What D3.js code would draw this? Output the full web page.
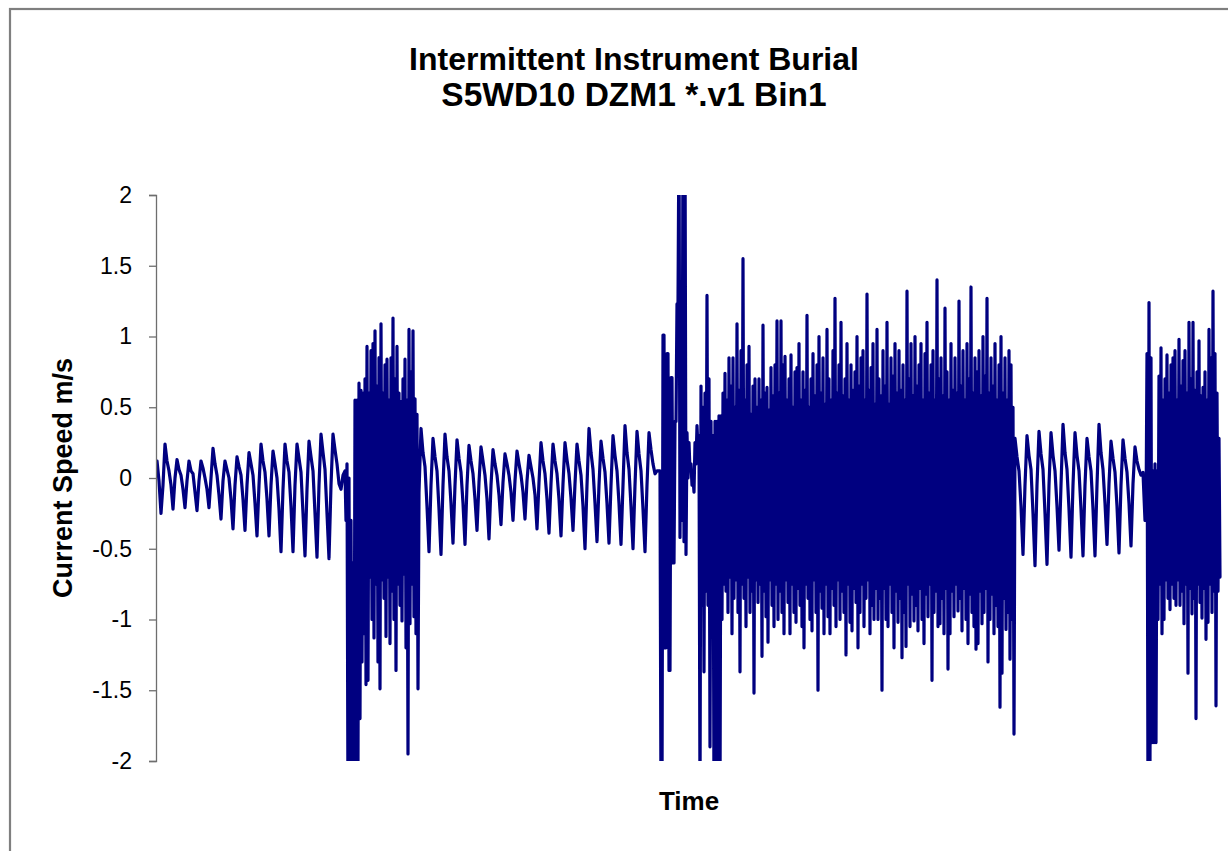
<!DOCTYPE html>
<html>
<head>
<meta charset="utf-8">
<script src="https://cdn.jsdelivr.net/npm/d3@7"></script>
<style>
  html, body { margin: 0; padding: 0; background: #ffffff; }
  svg { display: block; }
  text { font-family: "Liberation Sans", Arial, sans-serif; fill: #000; }
</style>
</head>
<body>
<svg id="chart" width="1228" height="851"></svg>
<script>
// ---------------- DATA ----------------
const titleLines = ["Intermittent Instrument Burial", "S5WD10 DZM1 *.v1 Bin1"];
const xTitle = "Time";
const yTitle = "Current Speed m/s";
const yTicks = [2, 1.5, 1, 0.5, 0, -0.5, -1, -1.5, -2];
const yTickLabels = ["2", "1.5", "1", "0.5", "0", "-0.5", "-1", "-1.5", "-2"];

// calm (tidal-like) section 1 — one sample per time step of 2
const calm1 = [
  0.12, -0.02, -0.25, -0.05,
  0.24, 0.12, 0.05, -0.05, -0.22, 0.00,
  0.13, 0.06, 0.02, -0.08, -0.21, -0.02,
  0.12, 0.05, 0.03, -0.10, -0.23, -0.02,
  0.12, 0.07, 0.00, -0.08, -0.21, 0.00,
  0.21, 0.10, 0.02, -0.12, -0.29, -0.02,
  0.12, 0.06, 0.00, -0.15, -0.36, -0.05,
  0.15, 0.08, 0.02, -0.15, -0.37, -0.05,
  0.18, 0.10, 0.02, -0.18, -0.41, -0.05,
  0.24, 0.12, 0.04, -0.15, -0.41, -0.05,
  0.19, 0.10, 0.00, -0.22, -0.52, -0.08,
  0.24, 0.12, 0.04, -0.20, -0.52, -0.05,
  0.24, 0.14, 0.04, -0.25, -0.55, -0.08,
  0.26, 0.15, 0.05, -0.25, -0.56, -0.05,
  0.31, 0.18, 0.06, -0.25, -0.57, -0.05,
  0.31, 0.20, 0.10, -0.04, -0.08, 0.02
];
// burial burst 1 — upper and lower excursion in each time slot
const burst1Hi = [
  0.05, 0.10, 0.00, -0.30, -0.60, 0.55, 0.55, 0.67, 0.62, 0.60,
  0.70, 0.93, 0.60, 0.90, 0.95, 1.04, 0.65, 0.85, 1.09, 0.60,
  0.80, 0.84, 0.55, 0.85, 1.13, 0.70, 0.93, 0.60, 0.54, 0.70,
  0.84, 0.55, 1.05, 0.75, 1.04, 0.56, 0.45
];
const burst1Lo = [
  -0.30, -2.30, -2.30, -2.30, -2.30, -2.20, -2.00, -1.70, -1.30, -1.10,
  -1.46, -1.43, -0.70, -1.00, -1.13, -0.75, -1.30, -1.49, -0.72, -0.85,
  -1.12, -0.70, -1.17, -0.80, -1.00, -1.36, -0.75, -0.90, -1.01, -0.68,
  -1.20, -1.95, -1.03, -0.75, -0.98, -1.10, -1.49
];
// calm section 2
const calm2 = [
  -0.10,
  0.35, 0.18, 0.08, -0.20, -0.52, -0.05,
  0.28, 0.15, 0.05, -0.22, -0.54, -0.05,
  0.31, 0.15, 0.05, -0.18, -0.46, -0.05,
  0.27, 0.14, 0.04, -0.18, -0.47, -0.05,
  0.23, 0.12, 0.03, -0.15, -0.37, -0.03,
  0.22, 0.12, 0.02, -0.15, -0.43, -0.05,
  0.20, 0.10, 0.02, -0.12, -0.33, -0.03,
  0.17, 0.10, 0.02, -0.10, -0.30, -0.02,
  0.19, 0.10, 0.02, -0.10, -0.29, -0.02,
  0.16, 0.08, 0.00, -0.12, -0.36, -0.03,
  0.25, 0.12, 0.03, -0.15, -0.39, -0.04,
  0.24, 0.12, 0.03, -0.15, -0.41, -0.04,
  0.25, 0.13, 0.03, -0.14, -0.37, -0.04,
  0.24, 0.12, 0.02, -0.20, -0.50, -0.05,
  0.35, 0.18, 0.06, -0.18, -0.45, -0.05,
  0.26, 0.14, 0.04, -0.18, -0.46, -0.05,
  0.30, 0.16, 0.05, -0.18, -0.47, -0.05,
  0.37, 0.18, 0.06, -0.20, -0.50, -0.05,
  0.33, 0.17, 0.05, -0.22, -0.52, -0.05,
  0.32, 0.20, 0.10, 0.03, 0.05
];
// burial burst 2 — upper and lower excursion in each time slot
const burst2Hi = [
  0.05, -2.30, 1.01, -1.20, 0.88, -1.36, 0.71, -0.60, 0.40, 1.23,
  2.50, 0.97, 2.50, 2.50, 0.32, 0.25, 0.10, 0.00, 0.25, 0.37,
  0.30, 0.65, 0.50, 0.60, 1.29, 0.70, 0.40, 0.30, 0.40, 0.40,
  0.44, 0.44, 0.60, 0.74, 0.55, 0.85, 0.65, 0.85, 0.50, 1.09,
  0.62, 0.90, 1.55, 0.55, 0.80, 0.93, 0.45, 0.65, 0.70, 0.50,
  0.70, 0.55, 1.08, 0.60, 0.64, 0.48, 0.78, 0.58, 0.80, 1.11,
  0.60, 1.11, 0.80, 0.86, 0.55, 0.70, 0.87, 0.50, 0.75, 0.78,
  0.95, 0.55, 0.75, 0.62, 1.15, 0.50, 0.70, 0.88, 0.58, 0.80,
  1.00, 0.60, 0.85, 0.52, 1.05, 0.70, 0.55, 0.90, 1.27, 0.60,
  0.80, 1.10, 0.58, 0.70, 0.95, 0.55, 0.80, 0.62, 0.75, 1.00,
  0.65, 0.85, 0.90, 0.55, 1.30, 0.62, 0.78, 0.95, 0.52, 1.05,
  0.70, 0.58, 0.90, 0.65, 1.10, 0.52, 0.85, 0.72, 0.95, 0.60,
  0.90, 0.62, 0.80, 0.55, 1.32, 0.70, 0.95, 0.58, 1.00, 0.65,
  0.80, 0.95, 0.55, 0.88, 1.10, 0.60, 0.80, 0.90, 0.55, 1.40,
  0.70, 0.85, 0.58, 1.20, 0.75, 0.55, 0.95, 0.62, 0.85, 0.60,
  1.25, 0.65, 0.90, 0.55, 0.95, 0.70, 1.35, 0.60, 0.85, 0.75,
  0.90, 0.58, 1.00, 0.72, 1.27, 0.60, 0.85, 0.65, 0.95, 0.55,
  0.80, 1.00, 0.60, 0.85, 0.55, 0.90, 0.80, 0.50
];
const burst2Lo = [
  0.05, -2.30, 1.01, -1.20, 0.88, -1.36, 0.71, -0.60, 0.40, 1.23,
  -0.42, -0.30, -0.45, -0.54, 0.00, 0.05, -0.05, -0.10, 0.10, 0.20,
  -2.30, -0.90, -1.37, -0.80, -0.90, -1.90, -1.00, -2.30, -2.30, -2.30,
  -2.30, -1.00, -0.75, -0.80, -0.95, -0.70, -1.10, -0.85, -0.72, -0.95,
  -1.37, -0.75, -0.85, -1.05, -0.70, -0.95, -0.80, -1.52, -0.72, -0.88,
  -0.75, -1.26, -0.80, -0.98, -1.16, -0.72, -0.90, -1.05, -0.75, -1.00,
  -0.80, -0.95, -1.10, -0.72, -0.88, -1.10, -0.75, -0.95, -1.02, -0.78,
  -0.90, -1.05, -1.20, -0.75, -0.85, -1.00, -1.08, -0.72, -0.95, -1.50,
  -0.80, -0.92, -1.10, -0.75, -0.98, -1.10, -0.78, -0.90, -1.05, -0.72,
  -1.00, -0.80, -0.95, -1.25, -0.75, -1.02, -1.08, -0.78, -0.88, -1.20,
  -0.95, -0.75, -1.05, -0.85, -0.72, -1.10, -0.90, -1.00, -0.78, -1.00,
  -0.85, -1.50, -0.78, -1.00, -1.05, -0.75, -0.95, -1.20, -0.80, -1.02,
  -0.85, -1.27, -0.95, -1.19, -0.75, -1.05, -0.82, -1.01, -0.90, -1.08,
  -0.78, -1.00, -1.17, -0.82, -0.98, -0.75, -1.43, -0.95, -0.80, -1.05,
  -1.03, -0.85, -1.10, -0.78, -1.35, -1.10, -0.80, -0.98, -0.75, -0.94,
  -0.85, -1.08, -0.78, -1.00, -1.17, -0.82, -0.95, -1.05, -1.21, -1.17,
  -0.80, -1.03, -0.95, -0.78, -1.30, -1.00, -0.82, -1.10, -0.90, -1.05,
  -1.62, -1.38, -0.85, -1.07, -0.95, -1.28, -1.00, -1.81
];
// calm section 3
const calm3 = [
  0.28, 0.15, 0.05, -0.20, -0.54, -0.05,
  0.30, 0.16, 0.06, -0.25, -0.62, -0.05,
  0.33, 0.17, 0.06, -0.25, -0.61, -0.05,
  0.32, 0.16, 0.05, -0.20, -0.51, -0.05,
  0.38, 0.18, 0.06, -0.22, -0.56, -0.05,
  0.32, 0.16, 0.05, -0.22, -0.55, -0.05,
  0.28, 0.15, 0.05, -0.22, -0.55, -0.05,
  0.38, 0.18, 0.06, -0.18, -0.47, -0.04,
  0.26, 0.14, 0.04, -0.20, -0.53, -0.05,
  0.27, 0.14, 0.04, -0.18, -0.48, -0.04,
  0.22, 0.12, 0.06, 0.02, 0.04
];
// burial burst 3 — upper and lower excursion in each time slot
const burst3Hi = [
  -0.30, 0.88, 1.24, 0.85, 0.05, 0.10, 0.05, 0.72, 0.92, 0.55,
  0.70, 0.87, 0.60, 0.80, 0.85, 0.90, 0.55, 0.98, 0.65, 0.83,
  0.90, 0.60, 1.10, 0.70, 1.10, 0.62, 0.75, 0.97, 0.58, 0.64,
  0.75, 0.55, 1.05, 0.85, 1.32, 0.88, 0.60, 0.28
];
const burst3Lo = [
  -0.30, -2.30, -2.00, -1.87, -1.87, -1.87, -1.00, -0.75, -1.10, -1.00,
  -0.72, -0.85, -0.93, -0.75, -0.85, -0.90, -0.72, -0.90, -0.80, -1.03,
  -0.75, -1.38, -0.78, -0.96, -0.85, -1.70, -0.75, -0.88, -0.99, -0.78,
  -1.14, -1.02, -0.75, -0.95, -0.80, -1.61, -0.80, -0.70
];

// ---------------- assemble the record (calm: 2 time units per sample, burst: 1) ----------------
const segments = [
  { values: calm1, dt: 2 },
  { values: burst1Hi.flatMap((h, i) => [h, burst1Lo[i]]), dt: 1 },
  { values: calm2, dt: 2 },
  { values: burst2Hi.flatMap((h, i) => [h, burst2Lo[i]]), dt: 1 },
  { values: calm3, dt: 2 },
  { values: burst3Hi.flatMap((h, i) => [h, burst3Lo[i]]), dt: 1 }
];
const record = [];
let t = 0;
segments.forEach(seg => seg.values.forEach(v => { record.push({ t, v }); t += seg.dt; }));

// ---------------- LAYOUT ----------------
const W = 1228, H = 851;
const plot = { left: 156, right: 1220, top: 195, bottom: 761 };

const svg = d3.select("#chart");

// outer chart frame (extends past the picture on the right and bottom)
svg.append("rect")
  .attr("x", 10).attr("y", 9)
  .attr("width", 1260).attr("height", 900)
  .attr("fill", "#ffffff")
  .attr("stroke", "#7f7f7f").attr("stroke-width", 2.2);

const x = d3.scaleLinear()
  .domain([0, record[record.length - 1].t])
  .range([plot.left + 1, plot.right]);
const y = d3.scaleLinear().domain([-2, 2]).range([plot.bottom, plot.top]);

svg.append("clipPath").attr("id", "clip")
  .append("rect")
  .attr("x", plot.left).attr("y", plot.top)
  .attr("width", W - plot.left).attr("height", plot.bottom - plot.top);

// data line
const line = d3.line().x(d => x(d.t)).y(d => y(d.v));
svg.append("path")
  .datum(record)
  .attr("clip-path", "url(#clip)")
  .attr("d", line)
  .attr("fill", "none")
  .attr("stroke", "#000080")
  .attr("stroke-width", 3.2)
  .attr("stroke-linejoin", "round")
  .attr("stroke-linecap", "round");

// y axis
const yAxis = d3.axisLeft(y)
  .tickValues(yTicks)
  .tickSize(7)
  .tickPadding(17)
  .tickFormat((d, i) => yTickLabels[i]);
const gy = svg.append("g")
  .attr("transform", `translate(${plot.left},0)`)
  .call(yAxis);
gy.select(".domain").attr("stroke", "#6e6e6e").attr("stroke-width", 1.3);
gy.selectAll(".tick line").attr("stroke", "#6e6e6e").attr("stroke-width", 1.3);
gy.selectAll(".tick text")
  .style("font-family", '"Liberation Sans", Arial, sans-serif')
  .style("font-size", "23px")
  .attr("fill", "#000");

// titles
svg.append("text")
  .attr("x", 634).attr("y", 70)
  .attr("text-anchor", "middle")
  .style("font-size", "32px").style("font-weight", "bold")
  .text(titleLines[0]);
svg.append("text")
  .attr("x", 634).attr("y", 106)
  .attr("text-anchor", "middle")
  .style("font-size", "33.5px").style("font-weight", "bold")
  .text(titleLines[1]);

svg.append("text")
  .attr("x", 689).attr("y", 810)
  .attr("text-anchor", "middle")
  .style("font-size", "26px").style("font-weight", "bold")
  .text(xTitle);

svg.append("text")
  .attr("transform", "translate(72,478) rotate(-90)")
  .attr("text-anchor", "middle")
  .style("font-size", "27px").style("font-weight", "bold")
  .text(yTitle);
</script>
</body>
</html>
